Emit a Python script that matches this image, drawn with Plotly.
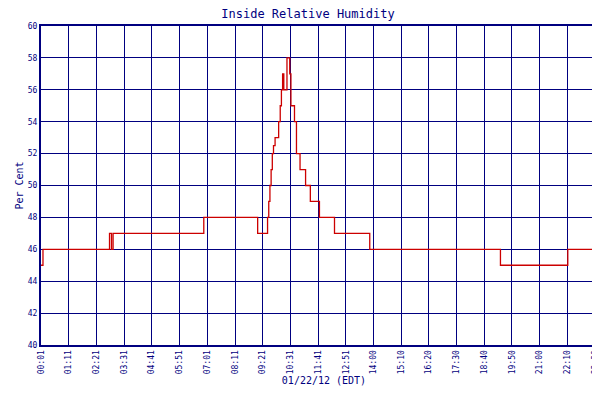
import plotly.graph_objects as go

times = ["00:01","00:06","02:54","02:59","03:03","06:52","09:08","09:33","09:36","09:39","09:42","09:45",
         "09:48","09:52","10:01","10:05","10:08","10:11","10:14","10:22","10:29","10:32","10:41","10:46",
         "10:55","11:09","11:21","11:44","12:22","13:51","19:21","22:11","23:47","23:50"]
values = [45,46,47,46,47,48,47,48,49,50,51,52,52.5,53,54,55,56,57,56,58,57,55,54,52,51,50,49,48,47,46,45,46,45,45]
tick_labels = ["00:01","01:11","02:21","03:31","04:41","05:51","07:01","08:11","09:21","10:31","11:41","12:51",
               "14:00","15:10","16:20","17:30","18:40","19:50","21:00","22:10","23:20","23:50"]

def mins(s):
    h, m = s.split(":")
    return int(h)*60 + int(m)

x = [mins(t) for t in times]
tv = [mins(t) for t in tick_labels]
navy = "#000080"
font = "DejaVu Sans Mono"

fig = go.Figure(go.Scatter(x=x, y=values, mode="lines", line=dict(color="#cc0000", width=1.3, shape="hv"),
                           name="Relative Humidity"))
fig.update_layout(
    width=600, height=400, paper_bgcolor="white", plot_bgcolor="white",
    margin=dict(l=33, r=1, t=18, b=63, autoexpand=False),
    title=dict(text="Inside Relative Humidity", x=0.5, y=0.995, xanchor="center", yanchor="top",
               font=dict(family=font, size=12, color=navy)),
    showlegend=True,
    legend=dict(orientation="h", x=0.5, xanchor="center", y=-0.165, yanchor="top",
                font=dict(family=font, size=7, color=navy)),
    xaxis=dict(range=[tv[0], tv[-1]], tickvals=tv, ticktext=tick_labels, tickangle=-90, automargin=False,
               tickfont=dict(family=font, size=8, color=navy), showgrid=True, gridcolor=navy, gridwidth=1,
               showline=True, linecolor=navy, linewidth=2, mirror=True, zeroline=False, ticks="",
               title=dict(text="01/22/12 (EDT)", font=dict(family=font, size=10, color=navy), standoff=4)),
    yaxis=dict(range=[40, 60], dtick=2, tickfont=dict(family=font, size=8, color=navy), automargin=False,
               showgrid=True, gridcolor=navy, gridwidth=1, showline=True, linecolor=navy, linewidth=2,
               mirror=True, zeroline=False, ticks="",
               title=dict(text="Per Cent", font=dict(family=font, size=10, color=navy), standoff=2)),
)
fig.write_html("out.html")
